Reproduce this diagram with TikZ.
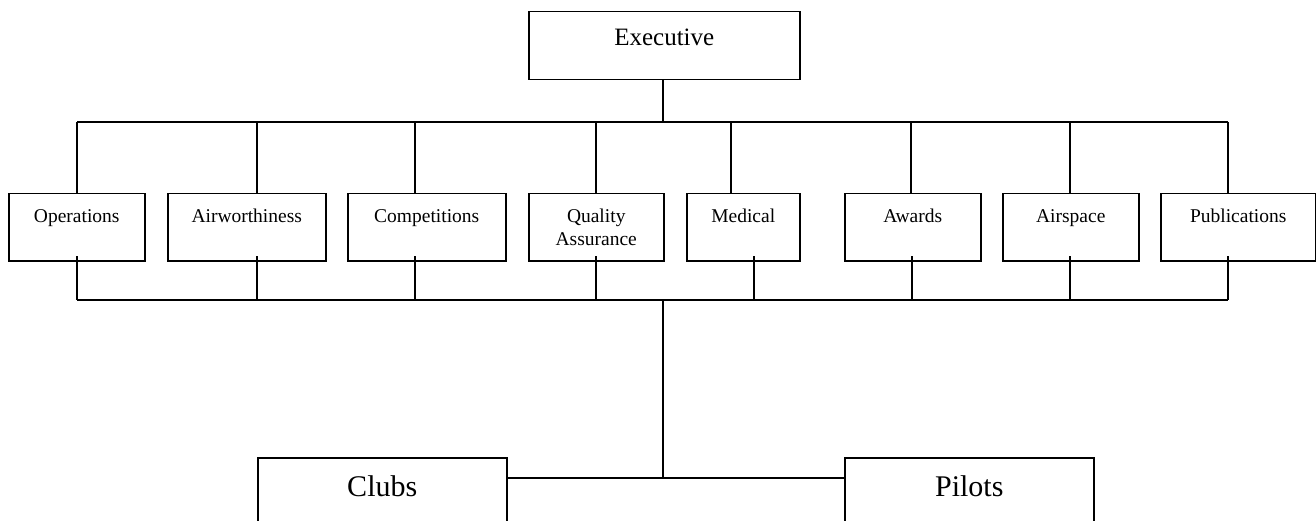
\documentclass[tikz,border=0pt]{standalone}
\usepackage{fontspec}
\setmainfont{Liberation Serif}
\usepackage{tikz}

\begin{document}
\begin{tikzpicture}[x=1pt,y=-1pt,line width=1.5pt]
  \tikzstyle{unit}=[rectangle,draw=black,line width=1.5pt,inner sep=0pt,align=center,
                    anchor=north west,minimum height=67pt,text height=29pt,text depth=38pt,
                    font=\fontsize{19.5}{23}\selectfont]
  \tikzstyle{two lines}=[text height=52pt,text depth=15pt]
  \tikzstyle{head}=[unit,minimum height=68pt,text height=34pt,text depth=34pt,
                    font=\fontsize{25}{30}\selectfont]
  \tikzstyle{member}=[unit,minimum height=90pt,text height=39pt,text depth=51pt,
                      font=\fontsize{30}{36}\selectfont]
  \useasboundingbox (0,0) rectangle (1316,521);
  \clip (0,0) rectangle (1316,521);

  % executive
  \node [head,minimum width=271pt] (exec) at (528,11) {Executive};

  % committees
  \node [unit,minimum width=136pt] (ops)   at (8,193)    {Operations};
  \node [unit,minimum width=158pt] (airw)  at (167,193)  {Airworthiness};
  \node [unit,minimum width=158pt] (comp)  at (347,193)  {Competitions};
  \node [unit,two lines,minimum width=135pt] (qa) at (528,193) {Quality\\Assurance};
  \node [unit,minimum width=113pt] (med)   at (686,193)  {Medical};
  \node [unit,minimum width=136pt] (awd)   at (844,193)  {Awards};
  \node [unit,minimum width=136pt] (airsp) at (1002,193) {Airspace};
  \node [unit,minimum width=155pt] (pubs)  at (1160,193) {Publications};

  % members
  \node [member,minimum width=249pt] (clubs)  at (257,457) {Clubs};
  \node [member,minimum width=249pt] (pilots) at (844,457) {Pilots};

  % buses
  \coordinate (tb) at (663,122);
  \coordinate (bb) at (663,300);
  \draw (exec.south -| tb) -- (tb);
  \draw (tb -| 77,0) -- (tb -| 1228,0);
  \draw (bb -| 77,0) -- (bb -| 1228,0);
  \foreach \n/\tx/\bx in {ops/77/77,airw/257/257,comp/415/415,qa/596/596,
                          med/731/754,awd/911/912,airsp/1070/1070,pubs/1228/1228}
  {
    \draw (tb -| \tx,0) -- (\n.north -| \tx,0);
    \draw ([yshift=5pt]\n.south -| \bx,0) -- (bb -| \bx,0);
  }
  \draw (bb) -- (bb |- 0,478) coordinate (jn);
  \draw (clubs.east |- jn) -- (pilots.west |- jn);
\end{tikzpicture}
\end{document}
